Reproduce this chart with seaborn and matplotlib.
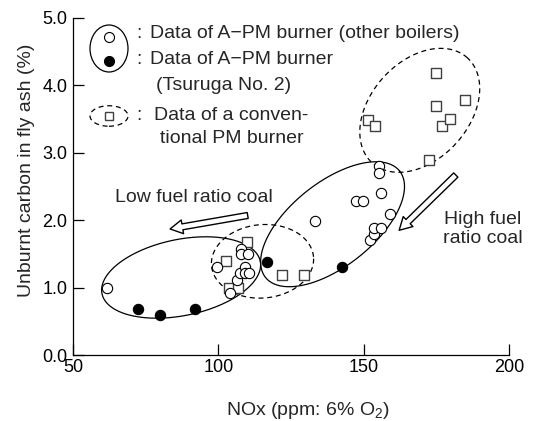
import numpy as np
import pandas as pd
import matplotlib
matplotlib.use("Agg")
import matplotlib.pyplot as plt
import seaborn as sns
from matplotlib.patches import Ellipse

# data
open_x = [61.6, 99.6, 104.1, 106.4, 107.6, 107.9, 107.9, 109.3, 109.3, 110.1, 110.4,
          133.4, 147.4, 149.6, 152.2, 153.6, 153.6, 155.3, 155.3, 155.9, 155.9, 159.1]
open_y = [0.99, 1.31, 0.92, 1.12, 1.21, 1.58, 1.50, 1.30, 1.21, 1.50, 1.21,
          1.99, 2.28, 2.28, 1.71, 1.80, 1.89, 2.80, 2.70, 2.40, 1.88, 2.09]

filled_x = [72.5, 79.8, 92.1, 116.8, 142.7]
filled_y = [0.68, 0.59, 0.68, 1.38, 1.30]

square_x = [109.9, 102.6, 103.6, 106.7, 122.0, 129.4,
            151.6, 153.9, 172.5, 174.8, 174.8, 176.8, 179.8, 184.9]
square_y = [1.68, 1.40, 1.00, 1.00, 1.19, 1.19,
            3.49, 3.40, 2.89, 4.19, 3.70, 3.40, 3.50, 3.79]

x_ticks = [50, 100, 150, 200]
y_ticks = [0.0, 1.0, 2.0, 3.0, 4.0, 5.0]

sns.set_theme(style="ticks")
plt.rcParams['font.family'] = ['Liberation Sans', 'DejaVu Sans']
plt.rcParams['mathtext.default'] = 'regular'

W, H = 538, 421
fig = plt.figure(figsize=(W / 100, H / 100), dpi=100)
ax_left, ax_right, ax_top, ax_bottom = 73, 509, 18, 355
ax = fig.add_axes([ax_left / W, 1 - ax_bottom / H,
                   (ax_right - ax_left) / W, (ax_bottom - ax_top) / H])
ax.set_xlim(50, 200)
ax.set_ylim(0, 5)

sx = (ax_right - ax_left) / 150.0
sy = (ax_bottom - ax_top) / 5.0


def ellipse(cx, cy, a, b, ang, ls):
    # a, b in pixels, angle in pixel space, center in data units
    t = np.linspace(0, 2 * np.pi, 300)
    th = np.deg2rad(ang)
    px = a * np.cos(t) * np.cos(th) - b * np.sin(t) * np.sin(th)
    py = a * np.cos(t) * np.sin(th) + b * np.sin(t) * np.cos(th)
    ax.plot(cx + px / sx, cy + py / sy, color="black", lw=0.9, ls=ls, zorder=2)


ellipse(87.2, 1.15, 80.8, 38.1, 11.6, "-")
ellipse(115.2, 1.39, 51.2, 36.7, 5, (0, (4, 3)))
ellipse(139.3, 1.94, 85.6, 41.9, 38.4, "-")
ellipse(169.3, 3.63, 70.9, 49.1, 47.7, (0, (4, 3)))

df_open = pd.DataFrame({"x": open_x, "y": open_y})
df_fill = pd.DataFrame({"x": filled_x, "y": filled_y})
df_sq = pd.DataFrame({"x": square_x, "y": square_y})

sns.scatterplot(data=df_sq, x="x", y="y", marker="s", s=45, facecolor="white",
                edgecolor="#404040", linewidth=1.0, ax=ax, zorder=3)
sns.scatterplot(data=df_open, x="x", y="y", marker="o", s=55, facecolor="white",
                edgecolor="black", linewidth=0.8, ax=ax, zorder=4)
sns.scatterplot(data=df_fill, x="x", y="y", marker="o", s=55, facecolor="black",
                edgecolor="black", linewidth=0.8, ax=ax, zorder=4)

# hollow arrows
arr = dict(arrowstyle="simple,head_length=9,head_width=10,tail_width=4.3",
           fc="white", ec="black", lw=1.0, shrinkA=0, shrinkB=0, mutation_scale=1)
ax.annotate("", xy=(83.4, 1.87), xytext=(110.1, 2.07), arrowprops=arr)
ax.annotate("", xy=(162.2, 1.85), xytext=(181.7, 2.67), arrowprops=arr)

fs = 14
ax.text(50 + (115 - ax_left) / sx, (ax_bottom - 198) / sy, "Low fuel ratio coal",
        fontsize=fs, va="center", ha="left")
ax.text(50 + (483 - ax_left) / sx, (ax_bottom - 229) / sy, "High fuel\nratio coal",
        fontsize=fs, va="center", ha="center", linespacing=1.15)

# legend drawn by hand in figure pixels
def fx(p):
    return p / W


def fy(p):
    return 1 - p / H


tf = fig.transFigure
fig.patches.append(Ellipse((fx(109), fy(48.5)), 38 / W, 47 / H, transform=tf,
                           fill=False, ec="black", lw=0.9))
fig.patches.append(Ellipse((fx(109), fy(116)), 38 / W, 20.5 / H, transform=tf,
                           fill=False, ec="black", lw=0.9, ls=(0, (4, 3))))
fig.lines.append(plt.Line2D([fx(109)], [fy(36.7)], transform=tf, marker="o", ms=7.2,
                            mfc="white", mec="black", mew=0.8))
fig.lines.append(plt.Line2D([fx(109)], [fy(61)], transform=tf, marker="o", ms=7.2,
                            mfc="black", mec="black", mew=0.8))
fig.lines.append(plt.Line2D([fx(109)], [fy(116)], transform=tf, marker="s", ms=6.4,
                            mfc="white", mec="#404040", mew=1.0))

for yy in [33, 60, 116]:
    fig.text(fx(138.5), fy(yy), ":", fontsize=fs, va="center", ha="center")
fig.text(fx(150), fy(33), "Data of A\u2212PM burner (other boilers)", fontsize=fs, va="center")
fig.text(fx(150), fy(60), "Data of A\u2212PM burner", fontsize=fs, va="center")
fig.text(fx(156.5), fy(85), "(Tsuruga No. 2)", fontsize=fs, va="center")
fig.text(fx(154), fy(116), "Data of a conven-", fontsize=fs, va="center")
fig.text(fx(160), fy(138.5), "tional PM burner", fontsize=fs, va="center")

ax.set_xticks(x_ticks)
ax.set_yticks(y_ticks)
ax.set_yticklabels(["%.1f" % v for v in y_ticks])
ax.tick_params(direction="in", length=8, width=0.9, labelsize=13, colors="black")
ax.tick_params(axis="x", pad=3)
ax.tick_params(axis="y", pad=4)
for s in ["left", "bottom"]:
    ax.spines[s].set_linewidth(0.9)
    ax.spines[s].set_color("black")
sns.despine(ax=ax)

ax.set_xlabel("NOx (ppm: 6% O$_2$)", fontsize=fs)
ax.set_ylabel("Unburnt carbon in fly ash (%)", fontsize=fs)
ax.xaxis.set_label_coords((308 - ax_left) / (ax_right - ax_left), -(400 - ax_bottom) / (ax_bottom - ax_top))
ax.yaxis.set_label_coords(-(ax_left - 35) / (ax_right - ax_left), (ax_bottom - 170) / (ax_bottom - ax_top))

fig.savefig("out.png", dpi=100)
